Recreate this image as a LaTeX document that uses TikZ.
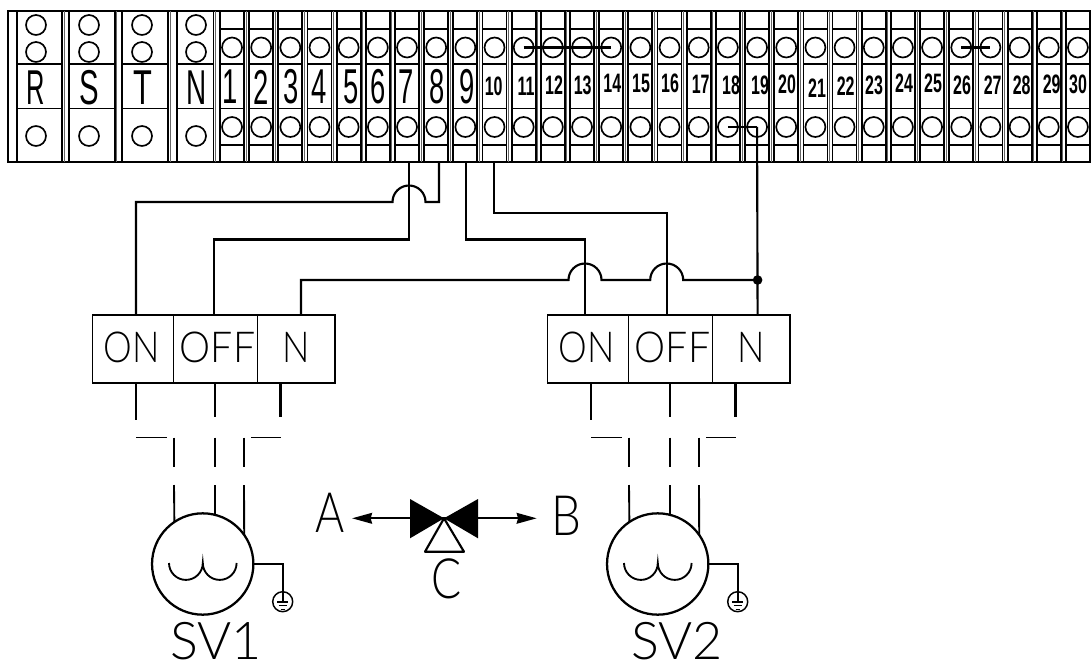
\documentclass[tikz,border=0pt]{standalone}
\usepackage{fontspec}
\usepackage{tikz}
\usetikzlibrary{arrows.meta}
\usetikzlibrary{positioning}
\setmainfont{Liberation Sans}
\newfontfamily\cadfont{Lato Light}
\tikzset{
rail/.style = {draw = black, line width = 1.35pt},
side rail/.style = {draw = black!60, line width = 0.6pt},
wire/.style = {draw = black, line width = 1.6pt},
thin wire/.style = {draw = black, line width = 1.4pt},
hole/.style = {circle, draw = black, line width = 1.25pt, minimum size = 15pt, inner sep = 0pt, outer sep = 0pt},
big mark/.style = {black, inner sep = 0pt, font = \fontsize{36.7}{36.7}\selectfont},
small mark/.style = {black, inner sep = 0pt, xscale = 0.6, font = \fontsize{20}{20}\selectfont\bfseries},
cad mark/.style = {black, inner sep = 0pt, font = \cadfont\fontsize{32}{32}\selectfont},
cad letter/.style = {black, inner sep = 0pt, font = \cadfont\fontsize{41.7}{41.7}\selectfont},
relay/.style = {rectangle, draw = black, line width = 1.4pt, minimum height = 51pt, inner sep = 0pt, outer sep = 0pt},
coil/.style = {circle, draw = black, line width = 1.7pt, minimum size = 76pt, inner sep = 0pt, outer sep = 0pt},
earth/.style = {circle, draw = black, line width = 1.1pt, minimum size = 15pt, inner sep = 0pt, outer sep = 0pt},
flow tip/.style = {-{Stealth[length = 15pt, width = 8pt, inset = 1pt]}},
}
\tikzset{
pics/main terminal/.style args={#1, #2, #3}{
        code = {
        \draw[rail] (#2, 11) -- (#2, 162) (#3, 11) -- (#3, 162);
        \draw[side rail] (#3 + 2, 11) -- (#3 + 2, 162);
        \draw[rail] (#2, 64) -- (#3, 64) (#2, 108.5) -- (#3, 108.5);
        \node[hole] (-a) at (#1, 25) {};
        \node[hole] (-b) at (#1, 52) {};
        \node[hole] (-c) at (#1, 136) {};
        }
    },
pics/terminal/.style={
        code = {
        \draw[rail] (-12, 11) -- (-12, 162) (12, 11) -- (12, 162);
        \draw[side rail] (14, 11) -- (14, 162);
        \draw[rail] (-12, 29) -- (12, 29) (-12, 64) -- (12, 64) (-12, 108.5) -- (12, 108.5) (-12, 145) -- (12, 145);
        \node[hole] (-top) at (0, 47.5) {};
        \node[hole] (-bot) at (0, 127) {};
        }
    },
pics/actuator/.style args={#1, #2}{
        code = {
        \node[relay, minimum width = 60.75pt] (-on) at (133, 349) {};
        \node[relay, minimum width = 63pt] (-off) at (215.5, 349) {};
        \node[relay, minimum width = 58pt] (-n) at (296.2, 349) {};
        \node[cad mark, xscale = 0.85] (-onmark) at (132, 347) {ON};
        \node[cad mark, xscale = 0.92] (-offmark) at (217.5, 347) {OFF};
        \node[cad mark, xscale = 0.85] (-nmark) at (296, 347) {N};
        \node[coil] (-coil) at (202.7, 564) {};
        \node[earth] (-earth) at (282.7, 601.7) {};
        \node[cad letter, font = \cadfont\fontsize{39}{39}\selectfont] (-name) at (#2, 641) {#1};
        \coordinate (-a1) at (136, 420);
        \coordinate (-a2) at (215, 417);
        \coordinate (-a3) at (280.5, 417);
        \draw[wire] (136, 0 |- -on.south) -- (-a1);
        \draw[wire] (215, 0 |- -off.south) -- (-a2);
        \draw[wire] (280.5, 0 |- -n.south) -- (-a3);
        \draw[thin wire] (136, 437.5) -- (167, 437.5);
        \draw[thin wire] (251, 437.5) -- (281, 437.5);
        \draw[thin wire] (174, 437.5) -- (174, 467) (215, 437.5) -- (215, 467) (244, 437.5) -- (244, 467);
        \draw[thin wire] (174, 485) -- (-coil.124.5) (215, 485) -- (-coil.76) (244, 485) -- (-coil.35.4);
        \draw[thin wire] (169, 563) arc (180:0:16.9) arc (180:0:16.9);
        \draw[wire] (-coil.east) -| (-earth.center);
        \draw[thin wire] (277.2, 601.7) -- (288.2, 601.7);
        \draw[line width = 1pt] (278.7, 605.7) -- (286.7, 605.7) (280.7, 609.3) -- (284.7, 609.3);
        }
    }
}
\begin{document}
\begin{tikzpicture}[x=0.75pt, y=-0.75pt]
    \useasboundingbox (0, 0) rectangle (1091, 663);
    \node[draw = black, line width = 1.7pt, minimum width = 812pt, minimum height = 113.2pt, inner sep = 0pt, outer sep = 0pt] (block) at (549.5, 86.75) {};
    % main terminals
    \path (0, 0) pic (R) {main terminal = {36, 17, 62}};
    \path (0, 0) pic (S) {main terminal = {89, 69, 114.7}};
    \path (0, 0) pic (T) {main terminal = {142, 122, 168}};
    \path (0, 0) pic (N) {main terminal = {196, 177, 213.5}};
    \node[big mark, xscale = 0.52] (markR) at (36, 87.5) {R};
    \node[big mark, xscale = 0.6] (markS) at (89, 87.5) {S};
    \node[big mark, xscale = 0.63] (markT) at (142.5, 87.5) {T};
    \node[big mark, xscale = 0.57] (markN) at (197, 87.5) {N};
    % numbered terminals
    \foreach \i in {1, ..., 30} {
      \path ({232 + 29.17 * (\i - 1)}, 0) pic (t\i) {terminal};
    }
    \foreach \n/\px in {1/230, 2/261, 3/291, 4/319, 5/351, 6/378, 7/406, 8/436.7, 9/466.7} {
      \node[big mark, xscale = 0.56] (mark\n) at (\px, 87) {\n};
    }
    \foreach \n/\px/\py in {10/493.7/86, 11/526/86, 12/554/85, 13/582.7/85, 14/612.3/83.5, 15/641/83.5, 16/670/83.5, 17/700.7/84, 18/731/85, 19/760/85, 20/787/84, 21/817/88, 22/845.7/86, 23/874/85, 24/904/83.5, 25/933/83.5, 26/962/85, 27/992.7/85, 28/1021.7/85, 29/1051.7/84, 30/1078/84} {
      \node[small mark] (mark\n) at (\px, \py) {\n};
    }
    % jumpers
    \draw[wire] (t11-top.center) -- (t14-top.center);
    \draw[wire] (t26-top.center) -- (t27-top.center);
    \draw[wire] (t18-bot.center) -- (t19-bot.center);
    % actuators
    \path (0, 0) pic (sv1) {actuator = {SV1, 216}};
    \path (455, 0) pic (sv2) {actuator = {SV2, 222}};
    % wiring to the block
    \coordinate (out7) at (409, 162);
    \coordinate (out8) at (439, 162);
    \coordinate (out9) at (465.7, 162);
    \coordinate (out10) at (494, 162);
    \coordinate (tee) at (757.6, 280);
    \draw[wire] (out7) -- (409, 239.5) -- (214, 239.5) -- (214, 0 |- sv1-off.north);
    \draw[wire] (out8) -- (439, 202) -- (425.5, 202) arc (0:-180:16.5) -- (136, 202) -- (136, 0 |- sv1-on.north);
    \draw[wire] (out9) -- (465.7, 239.5) -- (585, 239.5) -- (585, 0 |- sv2-on.north);
    \draw[wire] (out10) -- (494, 213) -- (666.7, 213) -- (666.7, 0 |- sv2-off.north);
    \draw[wire] (t19-bot.center) -- (757.6, 0 |- sv2-n.north);
    \draw[wire] (tee) -- (683.2, 280) arc (0:-180:16.5) -- (601.5, 280) arc (0:-180:16.5) -- (301, 280) -- (301, 0 |- sv1-n.north);
    \fill[black] (tee) circle (3.6pt);
    % three way valve
    \coordinate (valve) at (444, 518.3);
    \coordinate (tipA) at (352, 518.3);
    \coordinate (tipB) at (536.7, 518.3);
    \draw[line width = 1.6pt, flow tip] (valve) -- (tipA);
    \draw[line width = 1.6pt, flow tip] (valve) -- (tipB);
    \fill[black] (valve) -- (410, 499) -- (410, 538.3) -- cycle;
    \fill[black] (valve) -- (478, 499) -- (478, 538.3) -- cycle;
    \draw[line width = 1.6pt, line join = round] (valve) -- (425, 551.7) -- (464, 551.7) -- cycle;
    \node[cad letter, xscale = 0.8] (portA) at (330.5, 513) {A};
    \node[cad letter, xscale = 0.85] (portB) at (566.5, 515.5) {B};
    \node[cad letter, xscale = 0.8] (portC) at (447, 579) {C};
\end{tikzpicture}
\end{document}
